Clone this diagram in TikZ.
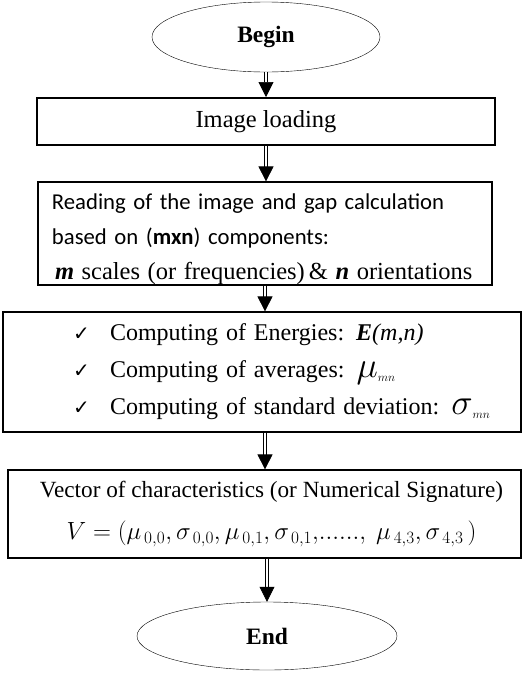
\documentclass[tikz,border=0pt]{standalone}
\usepackage{fontspec}
\setmainfont{Liberation Serif}
\newfontfamily\calibri{Carlito}
\newfontfamily\dejavu{DejaVu Sans}
\usetikzlibrary{arrows.meta, shapes.geometric}

\newcommand{\tick}{\hspace*{30pt}\makebox[37pt][l]{\dejavu\fontsize{20}{20}\selectfont ✓}}
\newcommand{\bigsym}[2]{\scalebox{1.45}{$#1$}$_{\scriptscriptstyle #2}$}

\begin{document}
\begin{tikzpicture}[x=1pt, y=-1pt,
		terminal/.style={draw, ellipse, thin, font=\fontsize{23.5}{26}\selectfont\bfseries},
		process/.style={draw, rectangle, line width=1.2pt},
		flow/.style={double, double distance=2pt, line width=0.7pt,
			-{Triangle[length=15pt, width=15pt]}}]

		\useasboundingbox (0,0) rectangle (522,673);

		\node[terminal, minimum width=228pt, minimum height=70pt] (start) at (266,37) {Begin};
		\node[process, line width=2pt, minimum width=458pt, minimum height=47pt,
			font=\fontsize{24.5}{26}\selectfont] (load) at (266,121.5) {Image loading};
		\node[process, minimum width=454pt, minimum height=103pt, inner xsep=14pt,
			text width=426pt, text depth=64pt, align=left, font=\fontsize{22.7}{35}\selectfont] (read) at (265,233.5)
			{{\calibri Reading of the image and gap calculation\\
			based on (\textbf{mxn}) components:}\\
			\mbox{\fontsize{24.5}{35}\selectfont\hspace*{3pt}\textit{\textbf{m}} scales (or frequencies)\,\& \textit{\textbf{n}} orientations}};
		\node[process, minimum width=518pt, minimum height=120pt, inner xsep=40pt,
			text width=438pt, align=left, font=\fontsize{24}{37}\selectfont] (comp) at (262,372)
			{\mbox{\tick Computing of Energies: \textit{\textbf{E}(m,n)}}\\
			\mbox{\tick Computing of averages: \bigsym{\mu}{mn}}\\
			\mbox{\tick Computing of standard deviation: \bigsym{\sigma}{mn}}};
		\node[process, minimum width=513pt, minimum height=88pt, align=center,
			font=\fontsize{23.2}{42}\selectfont] (vec) at (264.5,514)
			{\hspace*{14pt}Vector of characteristics (or Numerical Signature)\\
			\hspace*{14pt}$V = \left(\mu_{\,0,0}, \sigma_{\,0,0}, \mu_{\,0,1}, \sigma_{\,0,1},\!......,\ \mu_{\,4,3}, \sigma_{\,4,3}\,\right)$};
		\node[terminal, minimum width=260pt, minimum height=68pt] (finish) at (267,636) {End};

		\draw[flow] (start) -- (load);
		\draw[flow] (load.south) -- (load.south |- read.north);
		\draw[flow] (read.south) -- (read.south |- comp.north);
		\draw[flow] (comp.south -| read.south) -- (read.south |- vec.north);
		\draw[flow] (vec.south -| finish.north) -- (finish);
	\end{tikzpicture}
\end{document}
